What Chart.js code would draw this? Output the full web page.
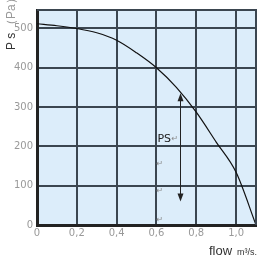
<!DOCTYPE html>
<html>
<head>
<meta charset="utf-8">
<script src="https://cdn.jsdelivr.net/npm/chart.js@4.4.0/dist/chart.umd.min.js"></script>
<style>
  html, body { margin: 0; padding: 0; background: #fff; }
  #wrap { width: 268px; height: 259px; }
</style>
</head>
<body>
<div id="wrap"><canvas id="chart"></canvas></div>
<script>
// fan curve
const flow = [0, 0.1, 0.2, 0.3, 0.4, 0.5, 0.6, 0.7, 0.8, 0.9, 1.0, 1.1];
const pressure = [512, 507, 500, 489, 470, 438, 400, 350, 287, 211, 134, 0];

// PS arrow annotation
const arrowFlow = 0.72;
const arrowTop = 330;
const arrowBottom = 65;
const markFlow = 0.6;
const markPressures = [156, 87, 13];

const gridColor = '#3b4650';

const fmtFlow = (v) => (v === 0 ? '0' : v.toFixed(1).replace('.', ','));

const extras = {
  id: 'extras',
  beforeDraw(chart) {
    const { ctx, chartArea: a } = chart;
    ctx.save();
    ctx.fillStyle = '#dcedfa';
    ctx.fillRect(a.left, a.top, a.right - a.left, a.bottom - a.top);
    ctx.restore();
  },
  afterDraw(chart) {
    const { ctx, chartArea: a, scales } = chart;
    const x = scales.x, y = scales.y;
    ctx.save();
    // top / right frame
    ctx.strokeStyle = gridColor;
    ctx.lineWidth = 2;
    ctx.beginPath();
    ctx.moveTo(a.left, a.top);
    ctx.lineTo(a.right, a.top);
    ctx.lineTo(a.right, a.bottom);
    ctx.stroke();

    // arrow
    const ax = Math.round(x.getPixelForValue(arrowFlow)) + 0.5;
    const y1 = y.getPixelForValue(arrowTop);
    const y2 = y.getPixelForValue(arrowBottom);
    ctx.strokeStyle = '#222';
    ctx.fillStyle = '#222';
    ctx.lineWidth = 1;
    ctx.beginPath();
    ctx.moveTo(ax, y1 + 4);
    ctx.lineTo(ax, y2 - 4);
    ctx.stroke();
    ctx.beginPath();
    ctx.moveTo(ax, y1 - 2);
    ctx.lineTo(ax - 3, y1 + 6);
    ctx.lineTo(ax + 3, y1 + 6);
    ctx.closePath();
    ctx.fill();
    ctx.beginPath();
    ctx.moveTo(ax, y2 + 2);
    ctx.lineTo(ax - 3, y2 - 6);
    ctx.lineTo(ax + 3, y2 - 6);
    ctx.closePath();
    ctx.fill();

    // PS label and return marks
    const mx = x.getPixelForValue(markFlow);
    ctx.font = '11px "DejaVu Sans", sans-serif';
    ctx.textBaseline = 'middle';
    ctx.textAlign = 'left';
    ctx.fillStyle = '#222';
    ctx.fillText('PS', mx + 1, y.getPixelForValue(218));
    ctx.fillStyle = '#888';
    ctx.font = '8px "DejaVu Sans", sans-serif';
    ctx.fillText('\u21b5', mx + 15, y.getPixelForValue(218));
    markPressures.forEach((p) => {
      ctx.fillText('\u21b5', mx, y.getPixelForValue(p));
    });

    // axis titles
    ctx.fillStyle = '#333';
    ctx.textAlign = 'left';
    ctx.textBaseline = 'alphabetic';
    ctx.font = '13px "Liberation Sans", Arial, sans-serif';
    ctx.fillText('flow', 209, 255);
    ctx.font = '9px "Liberation Sans", Arial, sans-serif';
    ctx.fillText('m\u00b3/s.', 237, 255);

    ctx.translate(15, 50);
    ctx.rotate(-Math.PI / 2);
    ctx.font = '12px "Liberation Sans", Arial, sans-serif';
    ctx.fillStyle = '#333';
    ctx.fillText('P s', 0, 0);
    ctx.fillStyle = '#999';
    ctx.fillText('\uff08Pa\uff09', 19, 0);
    ctx.restore();
  }
};

new Chart(document.getElementById('chart'), {
  type: 'line',
  data: {
    labels: flow,
    datasets: [
      {
        data: flow.map((f, i) => ({ x: f, y: pressure[i] })),
        borderColor: '#111',
        borderWidth: 1.2,
        pointRadius: 0,
        fill: false,
        cubicInterpolationMode: 'monotone',
      },
    ],
  },
  options: {
    responsive: true,
    maintainAspectRatio: false,
    animation: false,
    layout: { padding: { top: 4, right: 12, left: 0, bottom: 0 } },
    plugins: {
      legend: { display: false },
      tooltip: { enabled: false },
    },
    scales: {
      x: {
        type: 'linear',
        min: 0,
        max: 1.1,
        afterFit: (s) => { s.height = 34; },
        ticks: {
          stepSize: 0.2,
          includeBounds: false,
          maxRotation: 0,
          color: '#999',
          font: { size: 10, family: '"DejaVu Sans", sans-serif' },
          padding: 2,
          callback: (v) => fmtFlow(v),
        },
        grid: { color: gridColor, lineWidth: 2, drawTicks: false },
        border: { color: '#222', width: 3 },
      },
      y: {
        min: 0,
        max: 547,
        afterFit: (s) => { s.width = 37; },
        ticks: {
          stepSize: 100,
          includeBounds: false,
          color: '#999',
          font: { size: 10, family: '"DejaVu Sans", sans-serif' },
          padding: 4,
        },
        grid: { color: gridColor, lineWidth: 2, drawTicks: false },
        border: { color: '#222', width: 3 },
      },
    },
  },
  plugins: [extras],
});
</script>
</body>
</html>
